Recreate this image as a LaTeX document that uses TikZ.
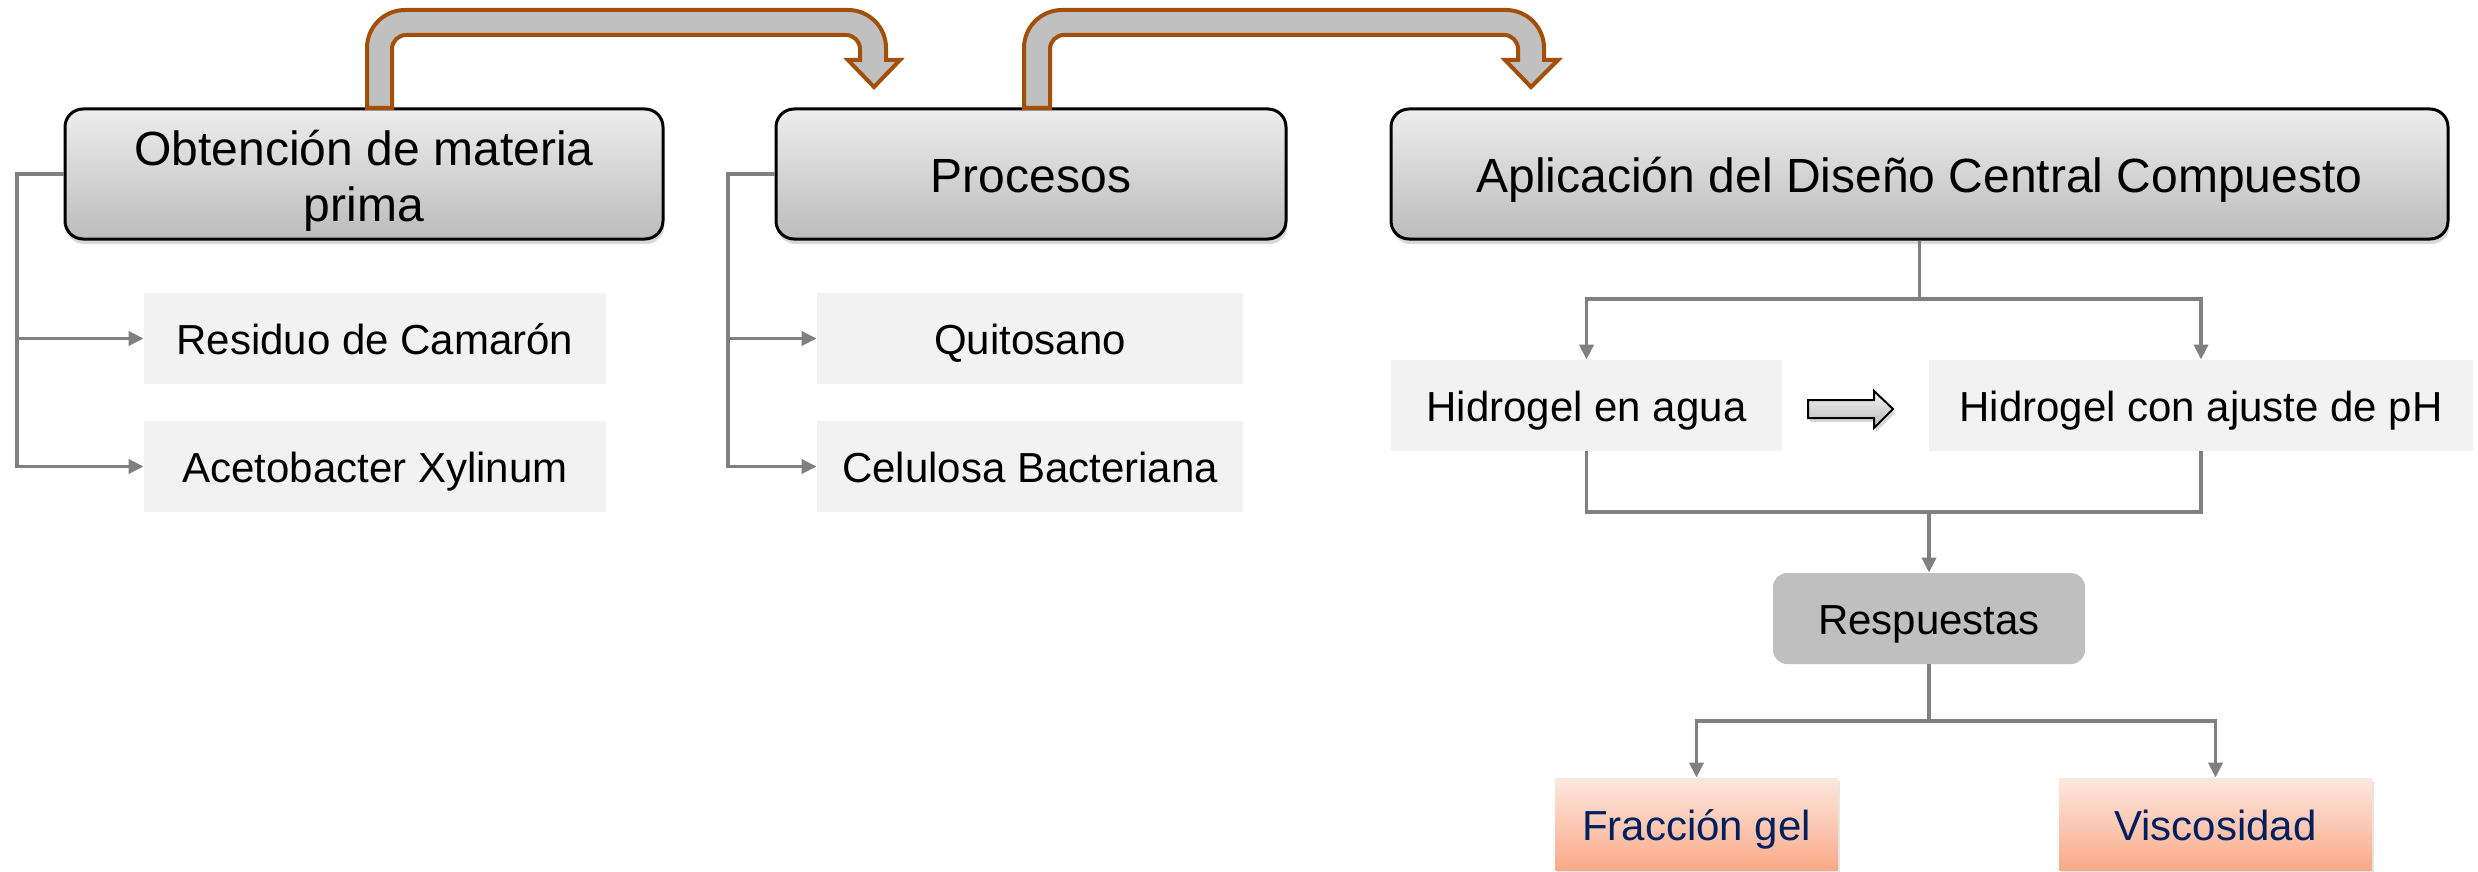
\documentclass[tikz,border=0pt]{standalone}
\usepackage{fontspec}
\setmainfont{Liberation Sans}
\usetikzlibrary{arrows.meta,shadows}
\definecolor{lineg}{RGB}{128,128,128}
\definecolor{subfill}{RGB}{242,242,242}
\definecolor{htop}{RGB}{237,237,237}
\definecolor{hbot}{RGB}{188,188,188}
\definecolor{brn}{RGB}{163,79,8}
\definecolor{bafill}{RGB}{192,192,192}
\definecolor{rfill}{RGB}{191,191,191}
\definecolor{ptop}{RGB}{253,231,222}
\definecolor{pbot}{RGB}{250,170,136}
\definecolor{navy}{RGB}{0,32,96}
\begin{document}
\begin{tikzpicture}[x=0.5pt,y=-0.5pt,
  hbase/.style={draw=black, line width=1.5pt, rounded corners=9pt,
    top color=htop, bottom color=hbot, minimum height=65pt, inner sep=0pt,
    align=center, font=\fontsize{24}{28}\selectfont,
    drop shadow={shadow xshift=0.6pt,shadow yshift=-2.5pt,opacity=0.3}},
  hbox/.style={hbase, text height=18pt, text depth=0pt},
  sbox/.style={fill=subfill, minimum height=45.5pt, inner sep=0pt,
    text height=16pt, text depth=0pt, font=\fontsize{21}{25}\selectfont},
  rbox/.style={sbox, fill=rfill, rounded corners=7pt},
  pbox/.style={sbox, fill=none, top color=ptop, bottom color=pbot, text=navy,
    minimum height=46pt,
    drop shadow={shadow xshift=1.2pt,shadow yshift=-1.5pt,opacity=0.2}},
  conn/.style={draw=lineg, line width=1.9pt},
  arr/.style={conn, -{Triangle[length=7.5pt,width=7pt]}},
  bentarrow/.style={draw=brn, fill=bafill, line width=2pt, line join=miter},
  blockarr/.style={draw=black, line width=1pt, top color=gray!8, bottom color=gray!55,
    drop shadow={shadow xshift=1pt,shadow yshift=-2pt,opacity=0.3}}
]
\useasboundingbox (0,0) rectangle (2478,872);

% header boxes
\node[hbase, minimum width=299pt] (h1) at (364,174) {\rule{0pt}{24.5pt}Obtención de materia\\prima};
\node[hbox, minimum width=255pt] (h2) at (1031,174) {Procesos};
\node[hbox, minimum width=528.5pt] (h3) at (1919.5,174) {Aplicación del Diseño Central Compuesto};

% sub boxes
\node[sbox, minimum width=231pt] (s1) at (375,338.5) {Residuo de Camarón};
\node[sbox, minimum width=231pt] (s2) at (375,466.5) {Acetobacter Xylinum};
\node[sbox, minimum width=213pt] (s3) at (1030,338.5) {Quitosano};
\node[sbox, minimum width=213pt] (s4) at (1030,466.5) {Celulosa Bacteriana};
\node[sbox, minimum width=195.5pt] (g1) at (1586.5,405.5) {Hidrogel en agua};
\node[sbox, minimum width=272pt] (g2) at (2201,405.5) {Hidrogel con ajuste de pH};
\node[rbox, minimum width=156pt] (r) at (1929,618.5) {Respuestas};
\node[pbox, minimum width=141.5pt] (f1) at (1696.5,824) {Fracción gel};
\node[pbox, minimum width=156.5pt] (f2) at (2215.5,824) {Viscosidad};

% bent block arrows
\draw[bentarrow] (367,108) -- (367,48) .. controls (367,27) and (384,10) .. (405,10)
  -- (848,10) .. controls (869,10) and (886,27) .. (886,48)
  -- (886,60) -- (900,60) -- (874,87) -- (848,60) -- (860,60)
  -- (860,49) .. controls (860,41.3) and (853.7,35) .. (846,35)
  -- (406,35) .. controls (398.3,35) and (392,41.3) .. (392,49)
  -- (392,108) -- cycle;
\draw[bentarrow] (1024,108) -- (1024,48) .. controls (1024,27) and (1041,10) .. (1062,10)
  -- (1506,10) .. controls (1527,10) and (1544,27) .. (1544,48)
  -- (1544,60) -- (1558,60) -- (1531,87) -- (1505,60) -- (1518,60)
  -- (1518,49) .. controls (1518,41.3) and (1511.7,35) .. (1504,35)
  -- (1064,35) .. controls (1056.3,35) and (1050,41.3) .. (1050,49)
  -- (1050,108) -- cycle;

% small block arrow
\draw[blockarr] (1808,400) -- (1874,400) -- (1874,391) -- (1893,409)
  -- (1874,428) -- (1874,418) -- (1808,418) -- cycle;

% connectors
\coordinate (b1) at (17,174);
\draw[arr] (h1.west) -- (b1) |- (s2.west);
\draw[arr] (b1) |- (s1.west);
\coordinate (b2) at (728,174);
\draw[arr] (h2.west) -- (b2) |- (s4.west);
\draw[arr] (b2) |- (s3.west);

\coordinate (b3) at (1919.5,299);
\draw[conn] (h3.south) -- (b3);
\draw[arr] (b3) -| (g1.north);
\draw[arr] (b3) -| (g2.north);

\coordinate (b4) at (1929,512);
\draw[conn] (g1.south) |- (b4) -| (g2.south);
\draw[arr] (b4) -- (r.north);

\coordinate (b5) at (1929,721);
\draw[conn] (r.south) -- (b5);
\draw[arr] (b5) -| (f1.north);
\draw[arr] (b5) -| (f2.north);
\end{tikzpicture}
\end{document}
